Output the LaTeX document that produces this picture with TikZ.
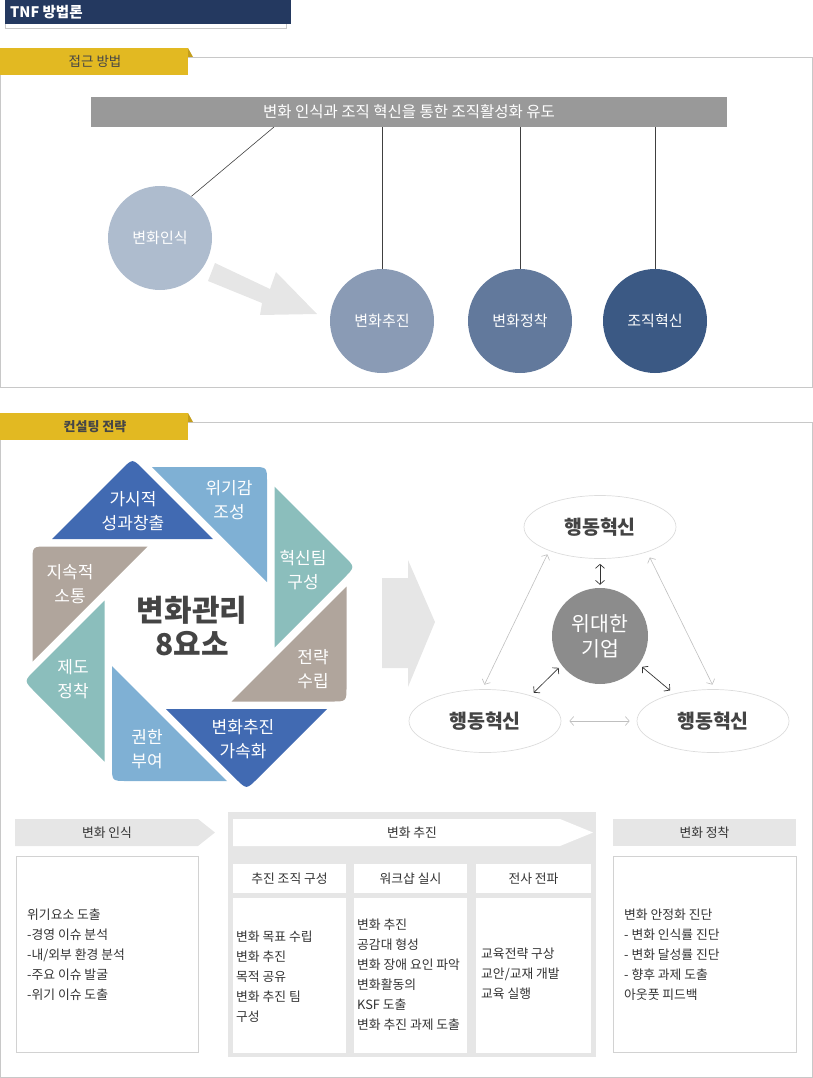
\documentclass[tikz,border=0pt]{standalone}
\usepackage{fontspec}
\setmainfont{Noto Sans CJK KR}
\usetikzlibrary{shapes.geometric,arrows.meta,calc}
\definecolor{navy}{RGB}{36,57,96}
\definecolor{tabyel}{RGB}{226,185,34}
\definecolor{tabdark}{RGB}{196,158,28}
\definecolor{tabtext}{RGB}{70,70,70}
\definecolor{panelline}{RGB}{200,200,200}
\definecolor{barcol}{RGB}{153,153,153}
\definecolor{cone}{RGB}{174,188,206}
\definecolor{ctwo}{RGB}{138,155,181}
\definecolor{cthree}{RGB}{98,121,156}
\definecolor{cfour}{RGB}{59,89,132}
\definecolor{lightarrow}{RGB}{230,230,230}
\definecolor{pdark}{RGB}{65,106,178}
\definecolor{plight}{RGB}{127,176,212}
\definecolor{pteal}{RGB}{139,190,188}
\definecolor{ptaupe}{RGB}{176,165,156}
\definecolor{darktext}{RGB}{68,68,68}
\definecolor{bodytext}{RGB}{51,51,51}
\definecolor{ellgray}{RGB}{220,220,220}
\definecolor{gcirc}{RGB}{140,140,140}
\definecolor{boxline}{RGB}{210,210,210}
\newcommand\myfs[2]{\fontsize{#1}{#2}\selectfont}
\newcommand\blade[4]{\fill[#1] (#2) -- ($(#3)!15pt!(#2)$) .. controls (#3) .. ($(#3)!15pt!(#4)$) -- (#4) -- cycle;}
\begin{document}
\begin{tikzpicture}[x=1pt,y=-1pt,
  tabtxt/.style={font=\myfs{13.5}{16}, text=tabtext, inner sep=0pt},
  circ/.style={circle, minimum size=104pt, inner sep=0pt, text=white, font=\myfs{15}{18}},
  ptxt/.style={text=white, align=center, font=\myfs{17}{24}, inner sep=0pt},
  behv/.style={ellipse, draw=ellgray, line width=0.7pt, minimum width=152pt, minimum height=63pt, font=\bfseries\myfs{19.5}{23}, text=darktext},
  bodytxt/.style={font=\myfs{12.8}{20}, text=bodytext, align=left, inner sep=0pt, anchor=west},
  hdrtxt/.style={font=\myfs{12.8}{15}, text=bodytext, inner sep=0pt},
  darr/.style={draw=black!80, line width=0.7pt, {Straight Barb[length=4pt,width=9pt]}-{Straight Barb[length=4pt,width=9pt]}},
  larr/.style={draw=black!25, line width=0.6pt, {Straight Barb[length=4pt,width=9pt]}-{Straight Barb[length=4pt,width=9pt]}},
  pline/.style={draw=black!75, line width=0.6pt}]
\useasboundingbox (0,0) rectangle (813,1078);
% header
\draw[panelline, line width=0.8pt] (5.5,10) rectangle (286,28);
\fill[navy] (5,0) rectangle (291,24);
\node[anchor=west, text=white, font=\bfseries\myfs{14.5}{16}, inner sep=0pt] (title) at (10,12) {TNF 방법론};
% section 1
\draw[panelline, line width=1pt] (0.5,57.5) rectangle (812,387.5);
\fill[tabyel] (0,48) rectangle (188,75);
\fill[tabdark] (188,48) -- (193,57) -- (188,57) -- cycle;
\node[tabtxt] (tab1) at (95,61.5) {접근 방법};
\node[fill=barcol, minimum width=636pt, minimum height=30pt, inner sep=0pt, text=white, font=\myfs{15.5}{18}] (bar) at (409,112) {변화 인식과 조직 혁신을 통한 조직활성화 유도};
\fill[lightarrow] (215,263) -- (270,289) -- (276,272) -- (317,314) -- (260,315) -- (262,303) -- (208,281) -- cycle;
\node[circ, fill=cone] (c1) at (160,238) {변화인식};
\node[circ, fill=ctwo] (c2) at (382,321) {변화추진};
\node[circ, fill=cthree] (c3) at (520,321) {변화정착};
\node[circ, fill=cfour] (c4) at (655,321) {조직혁신};
\coordinate (b1) at (274,127);
\draw[pline] (b1) -- (c1.53);
\draw[pline] (c2.north |- bar.south) -- (c2.north);
\draw[pline] (c3.north |- bar.south) -- (c3.north);
\draw[pline] (c4.north |- bar.south) -- (c4.north);
% section 2
\draw[panelline, line width=1pt] (0.5,422.5) rectangle (812,1077);
\fill[tabyel] (0,413) rectangle (188,440);
\fill[tabdark] (188,413) -- (193,422) -- (188,422) -- cycle;
\node[tabtxt, font=\bfseries\myfs{13}{15}] (tab2) at (95,426.5) {컨설팅 전략};
% octagon blades
\blade{pdark}{52,539}{132.5,458.5}{213,539}
\blade{plight}{152,467}{267,467}{267,582}
\blade{pteal}{274.5,486.5}{355,567}{274.5,647.5}
\blade{ptaupe}{346.5,586.5}{346.5,701.5}{231.5,701.5}
\blade{pdark}{327,709}{246.5,789.5}{166,709}
\blade{plight}{227,781}{112,781}{112,666}
\blade{pteal}{104.5,761.5}{24,681}{104.5,600.5}
\blade{ptaupe}{32.5,661.5}{32.5,546.5}{147.5,546.5}
\node[ptxt] (p1) at (133,511) {가시적\\성과창출};
\node[ptxt] (p2) at (229,500) {위기감\\조성};
\node[ptxt] (p3) at (303,570) {혁신팀\\구성};
\node[ptxt] (p4) at (313,669) {전략\\수립};
\node[ptxt] (p5) at (243,739) {변화추진\\가속화};
\node[ptxt] (p6) at (147,749) {권한\\부여};
\node[ptxt] (p7) at (73,679) {제도\\정착};
\node[ptxt] (p8) at (70,584) {지속적\\소통};
\node[align=center, text=darktext, font=\bfseries\myfs{30}{34}, inner sep=0pt] (ctr) at (192,626) {변화관리\\8요소};
% big chevron
\fill[lightarrow] (382,578) -- (408,578) -- (408,560) -- (435,622) -- (408,687) -- (408,668) -- (382,668) -- cycle;
% triangle diagram
\node[behv] (top) at (600,527) {행동혁신};
\node[behv] (bl) at (485,721) {행동혁신};
\node[behv] (br) at (713,721) {행동혁신};
\node[circle, fill=gcirc, minimum size=96pt, inner sep=0pt, text=white, align=center, font=\myfs{20.5}{25}] (gc) at (600,636) {위대한\\기업};
\draw[darr, shorten <=5pt, shorten >=3pt] (top.south) -- (gc.north);
\draw[darr, shorten <=4pt, shorten >=4pt] (bl.29) -- (gc.217);
\draw[darr, shorten <=5pt, shorten >=4pt] (br.145) -- (gc.324);
\draw[larr, shorten <=4pt, shorten >=5pt] (top.205) -- (bl.95);
\draw[larr, shorten <=6pt, shorten >=5pt] (top.332) -- (br.87);
\draw[larr, shorten <=8pt, shorten >=7pt] (bl.east) -- (br.west);
% bottom: change recognition
\fill[lightarrow] (15,819) -- (198,819) -- (215,832.5) -- (198,846) -- (15,846) -- cycle;
\node[hdrtxt] (h1) at (107,832.5) {변화 인식};
\draw[boxline, fill=white, line width=0.8pt] (16,856) rectangle (198,1052);
\node[bodytxt] (t1) at (27,955) {위기요소 도출\\-경영 이슈 분석\\-내/외부 환경 분석\\-주요 이슈 발굴\\-위기 이슈 도출};
% bottom: change promotion
\fill[lightarrow] (228,812) rectangle (596,1057);
\fill[white] (233,819) -- (560,819) -- (593,832.5) -- (560,846) -- (233,846) -- cycle;
\node[hdrtxt] (h2) at (412,832.5) {변화 추진};
\fill[white] (233,864) rectangle (346,893);
\fill[white] (354,864) rectangle (467,893);
\fill[white] (476,864) rectangle (591,893);
\fill[white] (233,898) rectangle (346,1053);
\fill[white] (354,898) rectangle (467,1053);
\fill[white] (476,898) rectangle (591,1053);
\node[hdrtxt] (s1) at (289.5,878.5) {추진 조직 구성};
\node[hdrtxt] (s2) at (410.5,878.5) {워크샵 실시};
\node[hdrtxt] (s3) at (533.5,878.5) {전사 전파};
\node[bodytxt] (t2) at (236,977) {변화 목표 수립\\변화 추진\\목적 공유\\변화 추진 팀\\구성};
\node[bodytxt] (t3) at (357,975) {변화 추진\\공감대 형성\\변화 장애 요인 파악\\변화활동의\\KSF 도출\\변화 추진 과제 도출};
\node[bodytxt] (t4) at (481,974) {교육전략 구상\\교안/교재 개발\\교육 실행};
% bottom: change settlement
\fill[lightarrow] (613,819) rectangle (796,846);
\node[hdrtxt] (h3) at (704.5,832.5) {변화 정착};
\draw[boxline, fill=white, line width=0.8pt] (613,856) rectangle (796,1052);
\node[bodytxt] (t5) at (624,955) {변화 안정화 진단\\- 변화 인식률 진단\\- 변화 달성률 진단\\- 향후 과제 도출\\아웃풋 피드백};
\end{tikzpicture}
\end{document}
